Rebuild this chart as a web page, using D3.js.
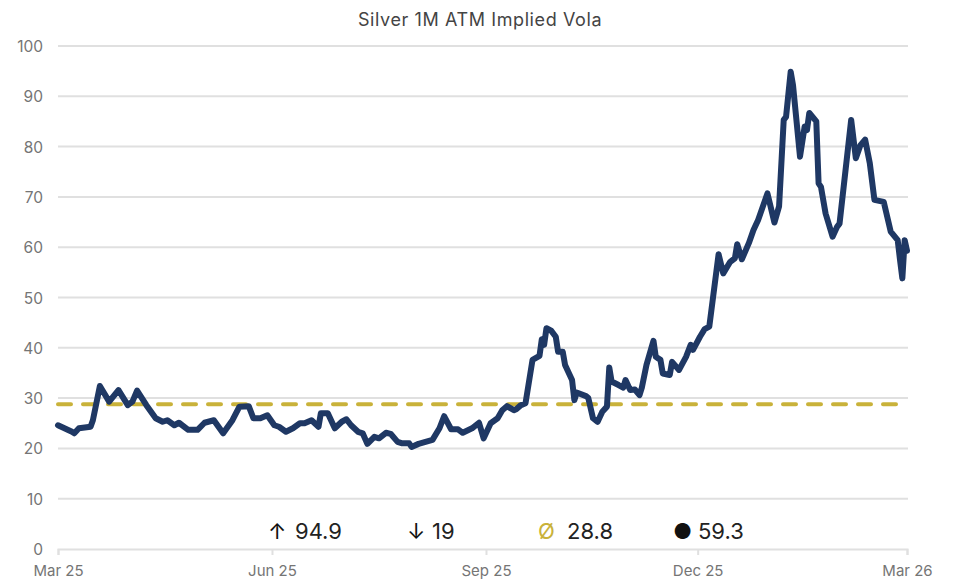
<!DOCTYPE html>
<html><head><meta charset="utf-8">
<script src="https://cdn.jsdelivr.net/npm/d3@7/dist/d3.min.js"></script>
<style>
html,body{margin:0;padding:0;background:#fff;}
svg{display:block;font-family:Inter,"Noto Sans",sans-serif;}
</style></head>
<body><svg id="c" width="956" height="580"></svg>
<script>
const title = "Silver 1M ATM Implied Vola";
const startDate = new Date(2025, 2, 1);
// days since 2025-03-01
const dayOffsets = [0,6,7,9,14,15,18,22,26,30,32,34,38,42,45,47,50,52,56,60,63,67,71,75,78,82,84,87,90,93,95,98,101,104,106,109,112,113,116,119,122,124,126,129,131,133,136,138,141,143,146,148,151,152,155,158,161,164,166,169,172,174,178,181,183,186,189,191,193,196,197,199,201,204,207,208,209,210,212,214,215,217,218,221,222,223,227,228,230,232,234,236,237,238,241,243,244,246,248,250,251,253,256,257,259,260,263,264,267,270,272,273,276,278,280,284,286,289,291,292,294,297,299,301,305,308,310,312,313,315,316,319,321,322,323,326,327,328,330,333,335,336,341,343,345,347,349,351,355,358,361,362,363,364,365];
const vols = [24.6,23.3,23.0,24.0,24.3,25.6,32.4,29.3,31.6,28.6,29.3,31.5,28.6,26.0,25.3,25.6,24.6,25.1,23.7,23.7,25.1,25.6,23.0,25.6,28.3,28.4,26.0,26.0,26.6,24.6,24.3,23.3,24.0,25.0,25.0,25.6,24.3,27.0,27.0,24.0,25.3,25.8,24.6,23.3,23.0,20.9,22.3,22.0,23.1,22.9,21.3,21.0,21.0,20.3,20.9,21.3,21.7,24.0,26.4,23.8,23.8,23.1,24.0,25.1,22.0,25.0,26.0,27.6,28.4,27.6,27.8,28.6,29.0,37.6,38.4,41.7,40.6,43.9,43.4,42.2,39.2,39.2,36.6,33.6,29.6,31.1,30.4,30.0,26.0,25.3,27.3,28.3,36.1,33.3,32.6,32.1,33.6,31.6,31.7,30.6,32.1,36.6,41.4,38.2,37.6,34.9,34.6,37.2,35.6,38.2,40.6,39.6,42.2,43.7,44.2,58.6,54.8,57.1,57.8,60.6,57.6,60.8,63.4,65.4,70.7,64.9,68.1,85.3,85.9,94.9,92.2,78.0,84.0,83.3,86.7,85.0,72.7,72.0,66.7,62.1,64.1,64.7,85.3,77.7,80.3,81.4,76.7,69.4,69.0,63.1,61.4,57.5,53.8,61.4,59.3];
const average = 28.8;
const yTicks = [0,10,20,30,40,50,60,70,80,90,100];
const xTickLabels = ["Mar 25","Jun 25","Sep 25","Dec 25","Mar 26"];
const xTickDates = [new Date(2025,2,1),new Date(2025,5,1),new Date(2025,8,1),new Date(2025,11,1),new Date(2026,2,1)];
const legendSymbols = ["↑","↓","Ø","●"];
const legendValues = ["94.9","19","28.8","59.3"];

const data = dayOffsets.map((d,i)=>({date:d3.timeDay.offset(startDate,d), v:vols[i]}));
const svg = d3.select("#c");
const x = d3.scaleTime().domain([startDate,new Date(2026,2,1)]).range([58,907]);
const y = d3.scaleLinear().domain([0,100]).range([549,46]);
const gold = "#c9b23a";

// title
svg.append("text").attr("x",480).attr("y",26).attr("text-anchor","middle")
  .attr("font-size",18).attr("letter-spacing",0.6).attr("fill","#444").text(title);

// grid
svg.append("g").selectAll("line").data(yTicks.filter(t=>t>0)).join("line")
  .attr("x1",58).attr("x2",908).attr("y1",d=>y(d)).attr("y2",d=>y(d))
  .attr("stroke","#e0e0e0").attr("stroke-width",2);
svg.append("g").selectAll("text").data(yTicks).join("text")
  .attr("x",43).attr("y",d=>y(d)+6).attr("text-anchor","end")
  .attr("font-size",15.5).attr("fill","#757575").text(d=>d);

// x axis
const xAxis = d3.axisBottom(x).tickValues(xTickDates).tickSize(6)
  .tickFormat((d,i)=>xTickLabels[i]);
const gx = svg.append("g").attr("transform","translate(0,549)").call(xAxis);
gx.select(".domain").attr("stroke","#e0e0e0").attr("stroke-width",2);
gx.selectAll(".tick line").attr("stroke","#e0e0e0").attr("stroke-width",2);
gx.selectAll(".tick text").attr("font-size",15).attr("fill","#757575")
  .attr("font-family","Inter,'Noto Sans',sans-serif").attr("y",0).attr("dy",0)
  .attr("transform","translate(0,27)");

// average dashed
svg.append("line").attr("x1",58).attr("x2",907).attr("y1",y(average)).attr("y2",y(average))
  .attr("stroke",gold).attr("stroke-width",4).attr("stroke-dasharray","13,12")
  .attr("stroke-linecap","round");

// line
const line = d3.line().x(d=>x(d.date)).y(d=>y(d.v));
svg.append("path").datum(data).attr("d",line).attr("fill","none")
  .attr("stroke","#1f3864").attr("stroke-width",6)
  .attr("stroke-linejoin","round").attr("stroke-linecap","round");

// legend
const symX = [268,407,538,673];
const valX = [295,432,567,698];
const lg = svg.append("g");
legendSymbols.forEach((s,i)=>{
  lg.append("text").attr("x",symX[i]).attr("y", i===3 ? 538.5 : 539)
    .attr("font-size", i===3 ? 21 : 22)
    .attr("fill", i===2 ? gold : "#111").text(s);
  lg.append("text").attr("x",valX[i]).attr("y",539).attr("font-size",22)
    .attr("fill","#222").text(legendValues[i]);
});
</script></body></html>
